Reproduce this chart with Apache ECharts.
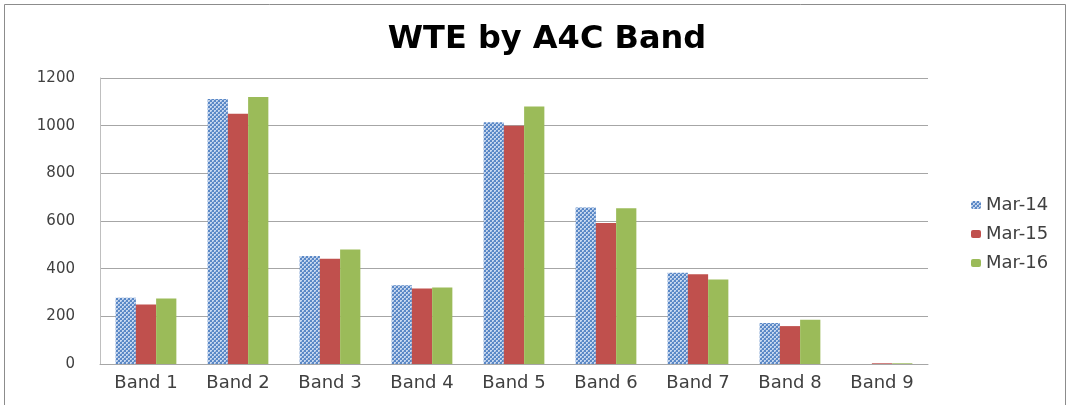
<!DOCTYPE html>
<html>
<head>
<meta charset="utf-8">
<script src="https://cdn.jsdelivr.net/npm/echarts@6/dist/echarts.min.js"></script>
<style>
html,body{margin:0;padding:0;background:#fff;}
#chart{width:1069px;height:405px;}
</style>
</head>
<body>
<div id="chart"></div>
<script>
const categories = ['Band 1','Band 2','Band 3','Band 4','Band 5','Band 6','Band 7','Band 8','Band 9'];
const seriesNames = ['Mar-14','Mar-15','Mar-16'];
const mar14 = [278, 1112, 453, 330, 1014, 657, 383, 172, 0];
const mar15 = [250, 1050, 442, 317, 1000, 592, 377, 159, 3];
const mar16 = [275, 1120, 480, 321, 1080, 653, 355, 186, 3];
const yTicks = [0, 200, 400, 600, 800, 1000, 1200];

function makePattern(){
  const c = document.createElement('canvas');
  c.width = 4; c.height = 4;
  const ctx = c.getContext('2d');
  ctx.fillStyle = '#5a88c6';
  ctx.fillRect(0,0,4,4);
  ctx.fillStyle = '#c6d7ef';
  ctx.fillRect(0,0,2,2);
  ctx.fillRect(2,2,2,2);
  ctx.fillStyle = '#8fadda';
  ctx.fillRect(1,1,1,1);
  ctx.fillRect(3,3,1,1);
  return c;
}

const chart = echarts.init(document.getElementById('chart'), null, {renderer:'canvas'});
const mkSeries = (name, data, color) => ({
  name, type:'bar', data, barGap:'0%', barCategoryGap:'34%',
  itemStyle:{color}, emphasis:{disabled:true}
});
chart.setOption({
  animation:false,
  backgroundColor:'#fff',
  title:{
    text:'WTE by A4C Band', left:542, textAlign:'center', top:19,
    textStyle:{fontFamily:'DejaVu Sans', fontWeight:'bold', fontSize:32, color:'#000'}
  },
  legend:{
    orient:'vertical', left:966, top:191, itemWidth:10, itemHeight:8, itemGap:11,
    textStyle:{fontFamily:'DejaVu Sans', fontSize:18, color:'#404040'},
    data:seriesNames
  },
  grid:{left:100, right:141, top:78, bottom:41, containLabel:false},
  xAxis:{
    type:'category', data:categories,
    axisLine:{lineStyle:{color:'#a6a6a6', width:1}},
    axisTick:{show:false},
    axisLabel:{margin:10, fontFamily:'DejaVu Sans', fontSize:18, color:'#404040'}
  },
  yAxis:{
    type:'value', min:yTicks[0], max:yTicks[yTicks.length-1], interval:200,
    axisLine:{show:true, lineStyle:{color:'#bfbfbf'}},
    axisTick:{show:false},
    splitLine:{lineStyle:{color:'#a6a6a6'}},
    axisLabel:{margin:25, fontFamily:'DejaVu Sans', fontSize:15, color:'#404040',
      formatter: v => String(v)}
  },
  graphic:[{
    type:'rect', shape:{x:4.5, y:4.5, width:1061, height:420},
    style:{fill:'none', stroke:'#8c8c8c', lineWidth:1}, silent:true
  }],
  series:[
    mkSeries(seriesNames[0], mar14, {image:makePattern(), repeat:'repeat'}),
    mkSeries(seriesNames[1], mar15, '#c0504d'),
    mkSeries(seriesNames[2], mar16, '#9bbb59')
  ]
});
</script>
</body>
</html>
